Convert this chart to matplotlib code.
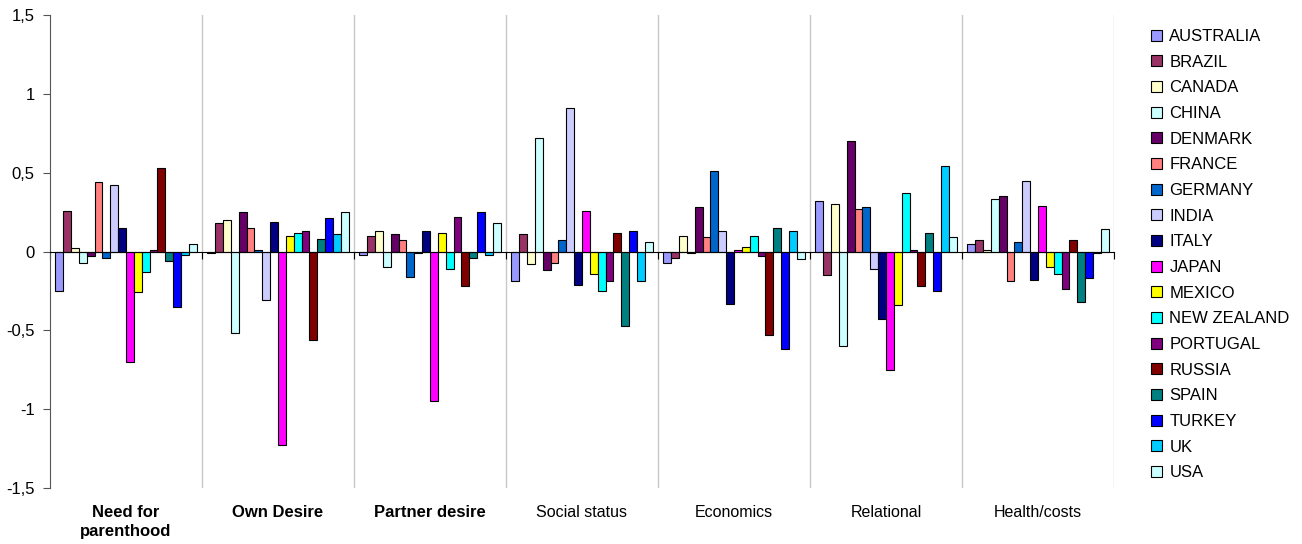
import matplotlib
matplotlib.use("Agg")
import matplotlib.pyplot as plt
import numpy as np
from matplotlib.patches import Patch

plt.rcParams['font.family'] = ['Liberation Sans', 'DejaVu Sans']

categories = ["Need for\nparenthood", "Own Desire", "Partner desire", "Social status",
              "Economics", "Relational", "Health/costs"]
bold_categories = [True, True, True, False, False, False, False]

countries = ["AUSTRALIA", "BRAZIL", "CANADA", "CHINA", "DENMARK", "FRANCE", "GERMANY",
             "INDIA", "ITALY", "JAPAN", "MEXICO", "NEW ZEALAND", "PORTUGAL", "RUSSIA",
             "SPAIN", "TURKEY", "UK", "USA"]

colors = ["#9999FF", "#993366", "#FFFFCC", "#CCFFFF", "#660066", "#FF8080", "#0066CC",
          "#CCCCFF", "#000080", "#FF00FF", "#FFFF00", "#00FFFF", "#800080", "#800000",
          "#008080", "#0000FF", "#00CCFF", "#CCFFFF"]

# one list per country, values in category order
australia   = [-0.25, -0.01, -0.02, -0.19, -0.07,  0.32,  0.05]
brazil      = [ 0.26,  0.18,  0.10,  0.11, -0.04, -0.15,  0.07]
canada      = [ 0.02,  0.20,  0.13, -0.08,  0.10,  0.30,  0.01]
china       = [-0.07, -0.52, -0.10,  0.72, -0.01, -0.60,  0.33]
denmark     = [-0.03,  0.25,  0.11, -0.12,  0.28,  0.70,  0.35]
france      = [ 0.44,  0.15,  0.07, -0.07,  0.09,  0.27, -0.19]
germany     = [-0.04,  0.01, -0.16,  0.07,  0.51,  0.28,  0.06]
india       = [ 0.42, -0.31, -0.01,  0.91,  0.13, -0.11,  0.45]
italy       = [ 0.15,  0.19,  0.13, -0.21, -0.33, -0.43, -0.18]
japan       = [-0.70, -1.23, -0.95,  0.26,  0.01, -0.75,  0.29]
mexico      = [-0.26,  0.10,  0.12, -0.14,  0.03, -0.34, -0.10]
new_zealand = [-0.13,  0.12, -0.11, -0.25,  0.10,  0.37, -0.14]
portugal    = [ 0.01,  0.13,  0.22, -0.19, -0.03,  0.01, -0.24]
russia      = [ 0.53, -0.56, -0.22,  0.12, -0.53, -0.22,  0.07]
spain       = [-0.06,  0.08, -0.04, -0.47,  0.15,  0.12, -0.32]
turkey      = [-0.35,  0.21,  0.25,  0.13, -0.62, -0.25, -0.17]
uk          = [-0.02,  0.11, -0.02, -0.19,  0.13,  0.54, -0.01]
usa         = [ 0.05,  0.25,  0.18,  0.06, -0.05,  0.09,  0.14]

series = [australia, brazil, canada, china, denmark, france, germany, india, italy,
          japan, mexico, new_zealand, portugal, russia, spain, turkey, uk, usa]

yticks = [1.5, 1.0, 0.5, 0.0, -0.5, -1.0, -1.5]
ytick_labels = ["1,5", "1", "0,5", "0", "-0,5", "-1", "-1,5"]

fig = plt.figure(figsize=(13.02, 5.44), dpi=100)
ax = fig.add_axes([50 / 1302, 1 - 488 / 544, 1064 / 1302, 473 / 544])

n = len(series)
span = 0.93
bw = span / n
x0 = np.arange(len(categories)) + 0.5
for j, (vals, c) in enumerate(zip(series, colors)):
    xs = x0 - span / 2 + bw * (j + 0.5)
    ax.bar(xs, vals, width=bw, color=c, edgecolor="black", linewidth=0.8, zorder=3)

ax.set_xlim(0, len(categories))
ax.set_ylim(-1.5, 1.5)

# category separators
for k in range(1, len(categories) + 1):
    ax.axvline(k, color="#C8C8C8", linewidth=1.0, zorder=1)

ax.spines['top'].set_visible(False)
ax.spines['right'].set_visible(False)
ax.spines['bottom'].set_position(('data', 0))
ax.spines['bottom'].set_zorder(4)
ax.spines['left'].set_color("#555555")
ax.spines['bottom'].set_color("black")

ax.set_yticks(yticks)
ax.set_yticklabels(ytick_labels, fontsize=12)
ax.tick_params(axis='y', direction='out', length=5, color="#555555", pad=6)
ax.set_xticks(np.arange(0, len(categories) + 1))
ax.set_xticklabels([])
ax.tick_params(axis='x', direction='out', length=5, color="black")

# category names under the plot area
for k, (lab, b) in enumerate(zip(categories, bold_categories)):
    ax.text(k + 0.5, -1.605, lab, ha='center', va='top',
            fontsize=12 if b else 11.5, fontweight='bold' if b else 'normal',
            linespacing=1.4)

handles = [Patch(facecolor=c, edgecolor="black", linewidth=0.8) for c in colors]
fig.legend(handles, countries, loc='upper left', bbox_to_anchor=(1151 / 1302, 1 - 29 / 544),
           frameon=False, fontsize=12, handlelength=0.65, handleheight=0.65,
           handletextpad=0.45, labelspacing=0.64, borderaxespad=0, borderpad=0)

fig.savefig("out.png", dpi=100)
